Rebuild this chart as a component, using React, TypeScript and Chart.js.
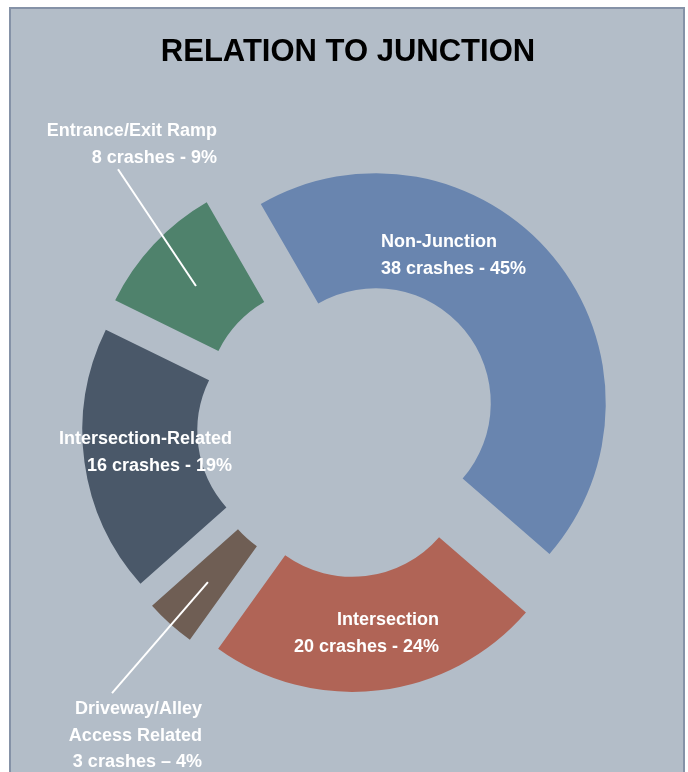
import React, { useEffect, useRef } from 'react';
import { Chart, registerables } from 'chart.js';

Chart.register(...registerables);

// ---- data ----
const categories = [
  'Non-Junction',
  'Intersection',
  'Driveway/Alley Access Related',
  'Intersection-Related',
  'Entrance/Exit Ramp',
];
const crashes = [38, 20, 3, 16, 8];
const percents = ['45%', '24%', '4%', '19%', '9%'];
const nameLines = [
  ['Non-Junction'],
  ['Intersection'],
  ['Driveway/Alley', 'Access Related'],
  ['Intersection-Related'],
  ['Entrance/Exit Ramp'],
];
const dashes = ['-', '-', '\u2013', '-', '-'];
const titleText = 'RELATION TO JUNCTION';

// ---- style ----
const BG = '#b3bdc8';
const FRAME = '#8592a7';
const sliceColors = ['#6985af', '#b06456', '#6f5e54', '#4a5869', '#4f826c'];
const FONT = '"Liberation Sans", Arial, sans-serif';
const LINE_H = 26.5;
const EXPLODE = 36; // px each slice is pulled out along its mid-angle

// label anchors relative to chart centre, in units of outer radius
const labelLayout: { dx: number; dy: number; align: CanvasTextAlign; line?: number[] }[] = [
  { dx: 0.143, dy: -0.778, align: 'left' },
  { dx: 0.396, dy: 0.865, align: 'right' },
  { dx: -0.635, dy: 1.252, align: 'right', line: [-0.609, 0.678, -1.026, 1.161] },
  { dx: -0.504, dy: 0.078, align: 'right' },
  { dx: -0.57, dy: -1.261, align: 'right', line: [-0.661, -0.609, -1.0, -1.117] },
];

// pull every arc outward by a fixed distance without changing its radii
const explodePlugin = {
  id: 'explodeSlices',
  beforeDatasetDraw(_chart: any, args: any) {
    args.meta.data.forEach((el: any) => {
      if (el.__exploded) return;
      el.__exploded = true;
      const base = Object.getPrototypeOf(el).draw;
      el.draw = function (ctx: CanvasRenderingContext2D, area: any) {
        const half = (this.startAngle + this.endAngle) / 2;
        ctx.save();
        ctx.translate(Math.cos(half) * EXPLODE, Math.sin(half) * EXPLODE);
        base.call(this, ctx, area);
        ctx.restore();
      };
    });
  },
};

const labelPlugin = {
  id: 'junctionLabels',
  afterDatasetsDraw(chart: any) {
    const meta = chart.getDatasetMeta(0);
    const arc0 = meta.data[0];
    if (!arc0) return;
    const cx = arc0.x;
    const cy = arc0.y;
    const R = arc0.outerRadius;
    const ctx = chart.ctx as CanvasRenderingContext2D;
    ctx.save();
    ctx.font = `bold 18px ${FONT}`;
    ctx.fillStyle = '#ffffff';
    ctx.strokeStyle = '#ffffff';
    ctx.lineWidth = 2;
    labelLayout.forEach((lay, i) => {
      if (lay.line) {
        ctx.beginPath();
        ctx.moveTo(cx + lay.line[0] * R, cy + lay.line[1] * R);
        ctx.lineTo(cx + lay.line[2] * R, cy + lay.line[3] * R);
        ctx.stroke();
      }
      const lines = [...nameLines[i], `${crashes[i]} crashes ${dashes[i]} ${percents[i]}`];
      ctx.textAlign = lay.align;
      ctx.textBaseline = 'alphabetic';
      lines.forEach((t, j) => {
        ctx.fillText(t, cx + lay.dx * R, cy + lay.dy * R + j * LINE_H);
      });
    });
    ctx.restore();
  },
};

export default function App() {
  const ref = useRef<HTMLCanvasElement | null>(null);

  useEffect(() => {
    if (!ref.current) return;
    const chart = new Chart(ref.current, {
      type: 'doughnut',
      data: {
        labels: categories,
        datasets: [
          {
            data: crashes,
            backgroundColor: sliceColors,
            borderWidth: 0,
            offset: 0,
            hoverOffset: 0,
          },
        ],
      },
      options: {
        responsive: false,
        animation: false,
        events: [],
        rotation: -30,
        cutout: '50%',
        radius: 230,
        layout: { padding: { left: 8, right: 0, top: 0, bottom: 0 } },
        plugins: {
          legend: { display: false },
          tooltip: { enabled: false },
          title: {
            display: true,
            text: titleText,
            color: '#000000',
            font: { family: FONT, size: 31, weight: 'bold', lineHeight: 1.2 },
            padding: { top: 34, bottom: 9 },
          },
        },
      } as any,
      plugins: [explodePlugin, labelPlugin],
    });
    return () => chart.destroy();
  }, []);

  return (
    <>
      <div
        style={{
          position: 'fixed',
          left: 9,
          top: 7,
          width: 676,
          height: 790,
          boxSizing: 'border-box',
          border: `2px solid ${FRAME}`,
          background: BG,
        }}
      />
      <canvas
        ref={ref}
        width={688}
        height={772}
        style={{ position: 'fixed', left: 0, top: 0, width: 688, height: 772 }}
      />
    </>
  );
}
